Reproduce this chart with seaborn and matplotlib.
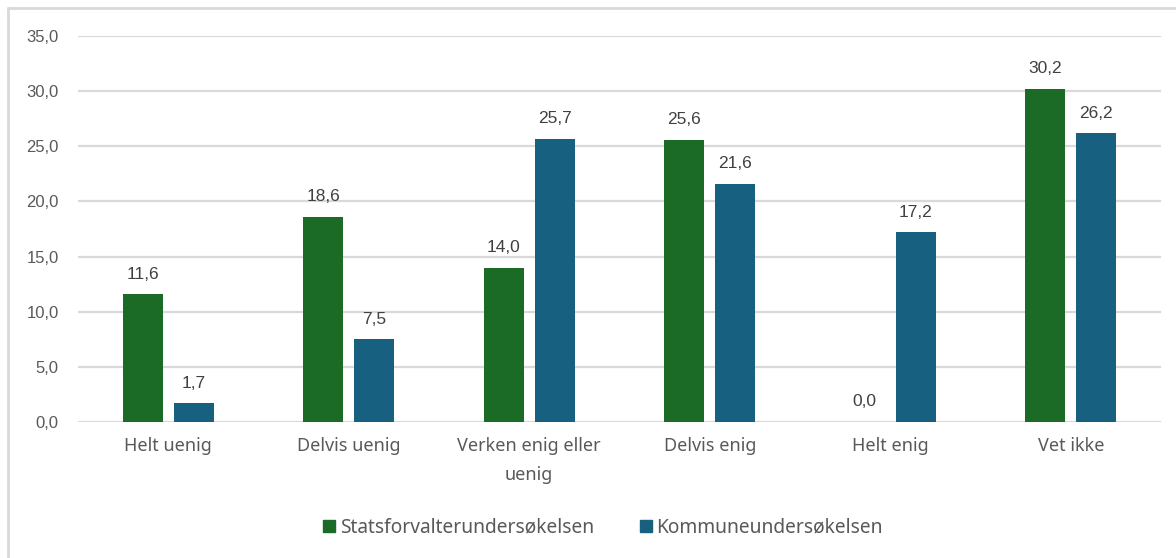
import matplotlib
matplotlib.use("Agg")
import matplotlib.pyplot as plt
import seaborn as sns
import pandas as pd
from matplotlib.lines import Line2D

# data
categories = ["Helt uenig", "Delvis uenig", "Verken enig eller\nuenig",
              "Delvis enig", "Helt enig", "Vet ikke"]
series_names = ["Statsforvalterundersøkelsen", "Kommuneundersøkelsen"]
statsforvalter = [11.6, 18.6, 14.0, 25.6, 0.0, 30.2]
kommune = [1.7, 7.5, 25.7, 21.6, 17.2, 26.2]
colors = ["#1b6a25", "#17607f"]

df = pd.DataFrame({
    "kategori": categories * 2,
    "serie": [series_names[0]] * len(categories) + [series_names[1]] * len(categories),
    "verdi": statsforvalter + kommune,
})

sns.set_theme(style="white")
plt.rcParams["font.family"] = ["Liberation Sans", "DejaVu Sans"]

fig = plt.figure(figsize=(11.76, 5.58), dpi=100)
ax = fig.add_axes([78 / 1176, 1 - 422 / 558, (1161 - 78) / 1176, (422 - 36) / 558])

sns.barplot(data=df, x="kategori", y="verdi", hue="serie", order=categories,
            hue_order=series_names, palette=colors, width=0.565, gap=0.21,
            saturation=1, linewidth=0, ax=ax, legend=False)

for cont in ax.containers:
    ax.bar_label(cont, labels=[f"{v:.1f}".replace(".", ",") for v in cont.datavalues],
                 padding=9, fontsize=12.5, color="#404040")

ax.set_ylim(0, 35)
ax.set_xlim(-0.5, len(categories) - 0.5)
ticks = [0, 5, 10, 15, 20, 25, 30, 35]
ax.set_yticks(ticks)
ax.set_yticklabels([f"{t:.1f}".replace(".", ",") for t in ticks], fontsize=12, color="#595959")
ax.tick_params(axis="y", pad=14, length=0)
ax.tick_params(axis="x", pad=11, length=0)
for lbl in ax.get_xticklabels():
    lbl.set_fontsize(13)
    lbl.set_color("#595959")
    lbl.set_family(["Noto Sans", "DejaVu Sans"])
    lbl.set_linespacing(1.8)
ax.set_xlabel("")
ax.set_ylabel("")
ax.yaxis.grid(True, color="#d9d9d9", linewidth=1.6)
ax.set_axisbelow(True)
for s in ax.spines.values():
    s.set_visible(False)

handles = [Line2D([], [], marker="s", linestyle="", markersize=9, color=c) for c in colors]
fig.legend(handles, series_names, loc="center", bbox_to_anchor=(603 / 1176, 1 - 528 / 558),
           ncol=2, frameon=False, handlelength=0.6, handletextpad=0.25, columnspacing=2.4,
           prop={"family": ["Noto Sans", "DejaVu Sans"], "size": 13.8}, labelcolor="#595959")

# light frame at left and top edges, as in the reference
fig.add_artist(Line2D([8 / 1176, 8 / 1176], [0, 1 - 8 / 558], transform=fig.transFigure,
                      color="#d9d9d9", linewidth=2))
fig.add_artist(Line2D([8 / 1176, 1], [1 - 8 / 558, 1 - 8 / 558], transform=fig.transFigure,
                      color="#d9d9d9", linewidth=2))

fig.savefig("out.png", dpi=100)
